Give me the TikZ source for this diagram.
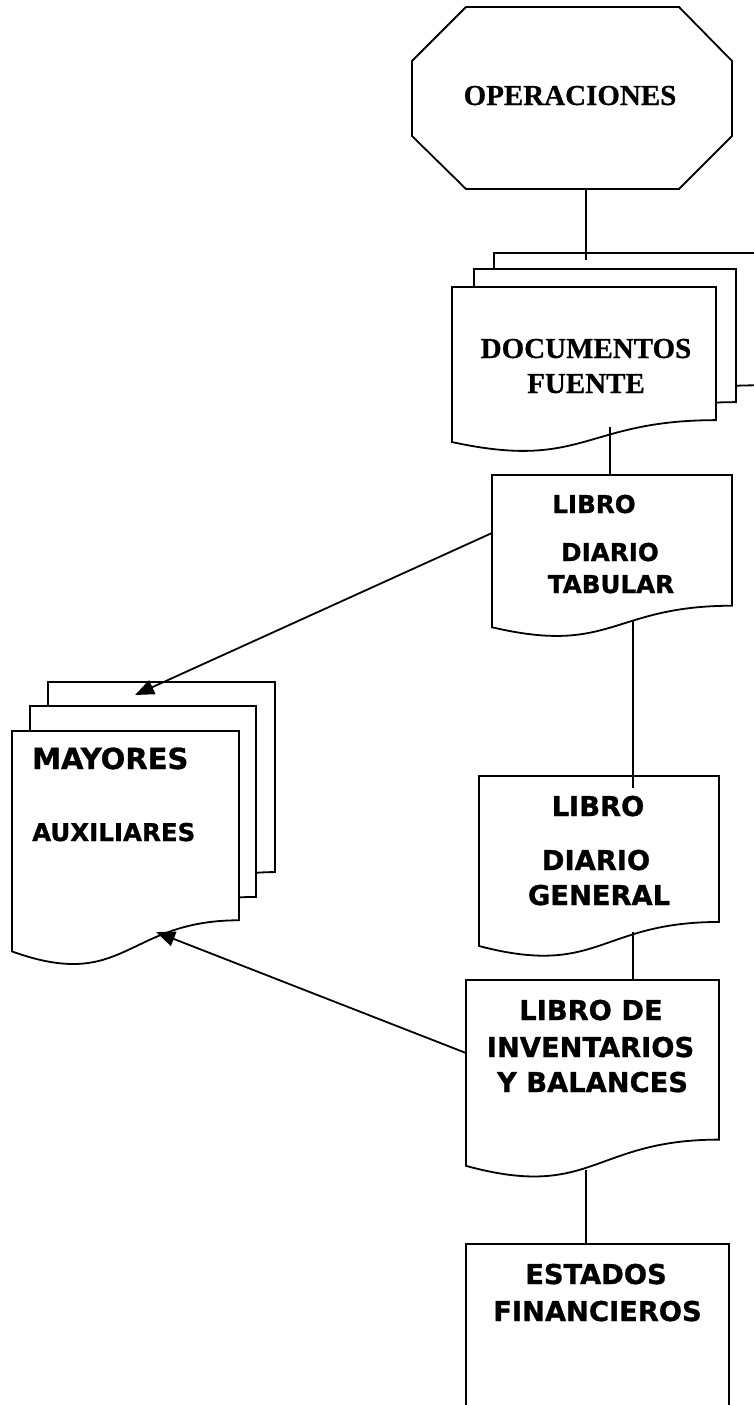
\documentclass[tikz,border=0pt]{standalone}
\usepackage{fontspec}
\usetikzlibrary{arrows.meta,calc}
\newfontfamily\tahfont{DejaVu Sans}[BoldFeatures={FakeBold=1.0}]
\newfontfamily\timfont{Liberation Serif}[BoldFeatures={FakeBold=0.6}]
\newcommand\flowdoc[4]{%
  \draw[shp] (#1,#2) -- ({#1+#3},#2) -- ({#1+#3},{#2+0.802*#4})
    .. controls ({#1+0.5*#3},{#2+0.802*#4}) and ({#1+0.5*#3},{#2+1.1075*#4}) ..
    (#1,{#2+0.934*#4}) -- cycle;}
\tikzset{
  shp/.style={draw=black, fill=white, line width=1.8pt, line join=miter},
  conn/.style={draw=black, line width=1.8pt},
  arr/.style={conn, -{Triangle[length=19pt,width=15pt]}},
  tim/.style={font=\timfont\bfseries\fontsize{29}{34}\selectfont, inner sep=0pt, anchor=base},
  tahA/.style={font=\tahfont\bfseries\fontsize{24.6}{30}\selectfont, inner sep=0pt, anchor=base},
  tahB/.style={font=\tahfont\bfseries\fontsize{27.3}{32}\selectfont, inner sep=0pt, anchor=base},
  tahM/.style={font=\tahfont\bfseries\fontsize{29}{34}\selectfont, inner sep=0pt, anchor=base west},
  tahS/.style={font=\tahfont\bfseries\fontsize{24.5}{30}\selectfont, inner sep=0pt, anchor=base west},
}
\begin{document}
\begin{tikzpicture}[x=1pt,y=-1pt]
\useasboundingbox (0,0) rectangle (754,1405);
\clip (0,0) rectangle (754,1405);
\fill[white] (0,0) rectangle (754,1405);

% OPERACIONES octagon
\draw[shp] (466,7) -- (679,7) -- (732,61) -- (732,136) -- (679,189) -- (466,189) -- (412,136) -- (412,61) -- cycle;
\node[tim] (op) at (570,105) {OPERACIONES};
\coordinate (opB) at (586,189);

% DOCUMENTOS FUENTE (multi-document)
\flowdoc{494}{253}{262}{165}
\flowdoc{474}{269}{262}{166}
\flowdoc{452}{287}{264}{166}
\coordinate (dfT) at (586,260);
\coordinate (dfB) at (610,427);
\node[tim] (df1) at (586,358) {DOCUMENTOS};
\node[tim] (df2) at (586,393) {FUENTE};

% LIBRO DIARIO TABULAR
\flowdoc{492}{475}{240}{163}
\coordinate (ldtT) at (610,475);
\coordinate (ldtB) at (633,620);
\coordinate (ldtL) at (492,533);
\node[tahA] (ldt1) at (594,513) {LIBRO};
\node[tahA] (ldt2) at (610,561) {DIARIO};
\node[tahA] (ldt3) at (611,593) {TABULAR};

% MAYORES AUXILIARES (multi-document)
\flowdoc{48}{682}{227}{237}
\flowdoc{30}{706}{226}{238}
\flowdoc{12}{731}{227}{236}
\coordinate (maT) at (135,695);
\coordinate (maW) at (156,932);
\node[tahM] (ma1) at (32,769) {MAYORES};
\node[tahS] (ma2) at (32,841) {AUXILIARES};

% LIBRO DIARIO GENERAL
\flowdoc{479}{776}{240}{182}
\coordinate (ldgT) at (633,788);
\coordinate (ldgB) at (633,932);
\node[tahB] (ldg1) at (598,816) {LIBRO};
\node[tahB] (ldg2) at (596,870) {DIARIO};
\node[tahB] (ldg3) at (599,905) {GENERAL};

% LIBRO DE INVENTARIOS Y BALANCES
\flowdoc{466}{980}{253}{199}
\coordinate (libT) at (633,980);
\coordinate (libB) at (586,1170);
\coordinate (libL) at (466,1053);
\node[tahB] (lib1) at (591,1020) {LIBRO DE};
\node[tahB] (lib2) at (590.5,1057) {INVENTARIOS};
\node[tahB] (lib3) at (592.5,1092) {Y BALANCES};

% ESTADOS FINANCIEROS
\draw[shp] (466,1244) rectangle (729,1430);
\coordinate (efT) at (586,1244);
\node[tahB] (ef1) at (596,1284) {ESTADOS};
\node[tahB] (ef2) at (597.5,1321) {FINANCIEROS};

% connectors
\draw[conn] (opB) -- (dfT);
\draw[conn] (dfB) -- (ldtT);
\draw[conn] (ldtB) -- (ldgT);
\draw[conn] (ldgB) -- (libT);
\draw[conn] (libB) -- (efT);
\draw[arr] (ldtL) -- (maT);
\draw[arr] (libL) -- (maW);
\end{tikzpicture}
\end{document}
